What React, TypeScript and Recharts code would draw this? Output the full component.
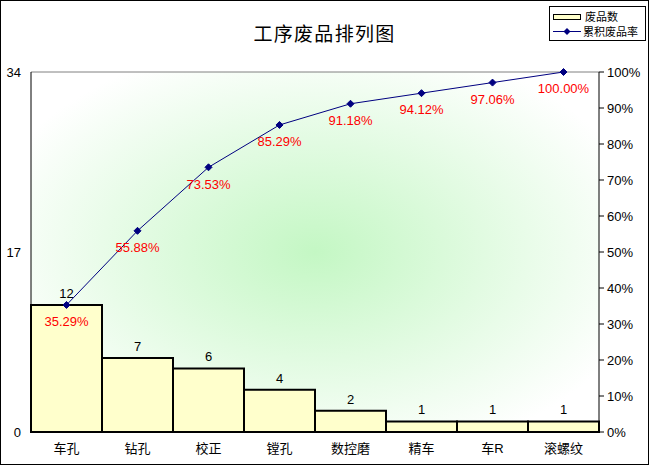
import {
  ComposedChart,
  Bar,
  Line,
  XAxis,
  YAxis,
  CartesianGrid,
  LabelList,
  Legend,
  ReferenceLine,
} from "recharts";

const categories = ["车孔", "钻孔", "校正", "镗孔", "数控磨", "精车", "车R", "滚螺纹"];
const counts = [12, 7, 6, 4, 2, 1, 1, 1];
const cumulative = [35.29, 55.88, 73.53, 85.29, 91.18, 94.12, 97.06, 100.0];
const leftTicks = [0, 17, 34];
const rightTicks = [0, 10, 20, 30, 40, 50, 60, 70, 80, 90, 100];

const data = categories.map((name, i) => ({
  name,
  count: counts[i],
  cum: cumulative[i],
}));

const font = "'Liberation Sans', 'Noto Sans CJK SC', sans-serif";
const navy = "#000080";

function Diamond(props: any) {
  const { cx, cy } = props;
  if (cx == null || cy == null) return null;
  const r = 3.5;
  return (
    <path
      d={`M${cx},${cy - r} L${cx + r},${cy} L${cx},${cy + r} L${cx - r},${cy} Z`}
      fill={navy}
      stroke={navy}
    />
  );
}

function LegendBox() {
  return (
    <div
      style={{
        width: 97,
        height: 35,
        border: "1px solid #000",
        background: "#fff",
        boxSizing: "border-box",
        fontFamily: "'Noto Sans CJK SC', sans-serif",
        fontSize: 11,
        lineHeight: "15px",
        padding: "2px 0 0 3px",
      }}
    >
      <div style={{ display: "flex", alignItems: "center", height: 15 }}>
        <span
          style={{
            width: 26,
            height: 4,
            border: "1px solid #000",
            background: "#ffffcc",
            marginRight: 4,
          }}
        />
        <span>废品数</span>
      </div>
      <div style={{ display: "flex", alignItems: "center", height: 15 }}>
        <svg width={28} height={9} style={{ marginRight: 2 }}>
          <line x1={0} y1={4.5} x2={28} y2={4.5} stroke={navy} strokeWidth={1} />
          <path d="M14,1 L17.5,4.5 L14,8 L10.5,4.5 Z" fill={navy} />
        </svg>
        <span>累积废品率</span>
      </div>
    </div>
  );
}

export default function App() {
  return (
    <div
      style={{
        position: "absolute",
        left: 0,
        top: 0,
        width: 649,
        height: 465,
        border: "1px solid #000",
        boxSizing: "border-box",
        background: "#fff",
        fontFamily: font,
      }}
    >
      <div
        style={{
          position: "absolute",
          left: 0,
          width: 647,
          top: 19,
          textAlign: "center",
          fontFamily: "'Noto Sans CJK SC', sans-serif",
          fontSize: 19,
          letterSpacing: 1.3,
          lineHeight: "26px",
          color: "#000",
          zIndex: 2,
        }}
      >
        工序废品排列图
      </div>
      <ComposedChart
        width={647}
        height={463}
        data={data}
        barCategoryGap={0}
        margin={{ top: 71, right: 0, bottom: 0, left: 0 }}
        style={{ fontFamily: font }}
      >
        <defs>
          <radialGradient id="plotBg" cx="0.5" cy="0.5" r="0.6">
            <stop offset="0%" stopColor="#c4f7c4" />
            <stop offset="100%" stopColor="#ffffff" />
          </radialGradient>
        </defs>
        <CartesianGrid horizontal={false} vertical={false} fill="url(#plotBg)" fillOpacity={1} />
        <XAxis
          dataKey="name"
          height={32}
          tickLine={false}
          tickMargin={6}
          axisLine={{ stroke: "#000" }}
          tick={{ fontSize: 13, fill: "#000" }}
          interval={0}
        />
        <YAxis
          yAxisId="left"
          width={30}
          domain={[0, 34]}
          ticks={leftTicks}
          tickLine={false}
          tickMargin={4}
          axisLine={{ stroke: "#000" }}
          tick={{ fontSize: 13, fill: "#000" }}
        />
        <YAxis
          yAxisId="right"
          orientation="right"
          width={49}
          domain={[0, 100]}
          ticks={rightTicks}
          tickSize={5}
          tickMargin={3}
          tickLine={{ stroke: "#000" }}
          axisLine={{ stroke: "#000" }}
          tick={{ fontSize: 13, fill: "#000" }}
          tickFormatter={(v: number) => `${v}%`}
        />
        <ReferenceLine yAxisId="left" y={34} stroke="#808080" />
        <Bar
          yAxisId="left"
          dataKey="count"
          fill="#ffffcc"
          stroke="#000"
          strokeWidth={2}
          isAnimationActive={false}
        >
          <LabelList dataKey="count" position="top" offset={7} fill="#000" fontSize={13} />
        </Bar>
        <Line
          yAxisId="right"
          dataKey="cum"
          stroke={navy}
          strokeWidth={1}
          dot={<Diamond />}
          activeDot={false}
          isAnimationActive={false}
        >
          <LabelList
            dataKey="cum"
            position="bottom"
            offset={12}
            fill="#ff0000"
            fontSize={13}
            formatter={(v: any) => `${Number(v).toFixed(2)}%`}
          />
        </Line>
        <Legend
          layout="vertical"
          align="center"
          verticalAlign="middle"
          wrapperStyle={{ position: "absolute", left: 548, top: 5, width: 97 }}
          content={() => <LegendBox />}
        />
      </ComposedChart>
    </div>
  );
}
